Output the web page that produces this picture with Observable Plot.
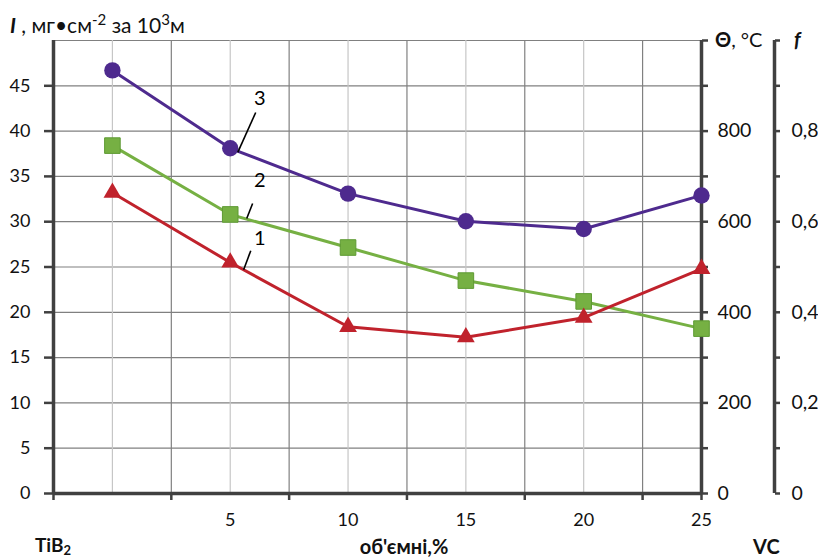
<!DOCTYPE html>
<html><head><meta charset="utf-8">
<script src="https://cdn.jsdelivr.net/npm/d3@7"></script>
<script src="https://cdn.jsdelivr.net/npm/@observablehq/plot@0.6"></script>
<style>body{margin:0;background:#fff}</style>
</head><body><div id="chart"></div>
<script>
// composition, об'ємні % VC (0 = TiB2)
const composition = [0, 5, 10, 15, 20, 25];
const series3 = [46.7, 38.1, 33.1, 30.05, 29.2, 32.9];   // curve 3
const series2 = [38.4, 30.8, 27.15, 23.5, 21.2, 18.2];   // curve 2
const series1 = [33.2, 25.5, 18.4, 17.25, 19.4, 24.8];   // curve 1
const seriesNames = ["3", "2", "1"];
const seriesColors = ["#4e2a8e", "#76b043", "#c0222c"];
const seriesSymbols = ["circle", "square", "triangle"];
const xTickLabels = [5, 10, 15, 20, 25];
const leftTicks = [0, 5, 10, 15, 20, 25, 30, 35, 40, 45];
const rightTicks = [0, 5, 10, 15, 20, 25, 30, 35, 40, 45, 50];
const thetaLabels = [0, 200, 400, 600, 800];
const fLabels = ["0", "0,2", "0,4", "0,6", "0,8"];
const xTickMarks = [-2.5, 2.5, 7.5, 12.5, 17.5, 22.5, 25];
const lightGridX = [0, 5, 10, 15, 20];
const darkGridX = [2.5, 7.5, 12.5, 17.5, 22.5];
const gridY = [5, 10, 15, 20, 25, 30, 35, 40, 45, 50];
// curve labels with leader lines
const labelPos = [{n: "3", x: 6.25, y: 43.6}, {n: "2", x: 6.25, y: 34.55}, {n: "1", x: 6.25, y: 28.1}];
const leaders = [
  {x1: 6.08, y1: 42.05, x2: 5.32, y2: 37.65},
  {x1: 5.95, y1: 32.0, x2: 5.70, y2: 30.35},
  {x1: 5.87, y1: 26.8, x2: 5.57, y2: 24.7}
];

const allSeries = [series3, series2, series1];
const rows = allSeries.flatMap((vals, i) => composition.map((c, j) => ({name: seriesNames[i], c, v: vals[j], i})));

const FONT = "Lato, 'Noto Sans', sans-serif";
const axisColor = "#404040";

const lineMarks = allSeries.map((vals, i) =>
  Plot.line(rows.filter(r => r.i === i), {x: "c", y: "v", stroke: seriesColors[i], strokeWidth: 3}));
const dotMarks = allSeries.map((vals, i) =>
  Plot.dot(rows.filter(r => r.i === i), {
    x: "c", y: "v", symbol: seriesSymbols[i],
    r: i === 0 ? 8.2 : i === 1 ? 8.8 : 6.6,
    fill: seriesColors[i],
    stroke: i === 1 ? "#5e9a33" : "none", strokeWidth: 1
  }));

const plot = Plot.plot({
  width: 818, height: 558,
  marginLeft: 53, marginRight: 117, marginTop: 40, marginBottom: 65,
  style: {fontFamily: FONT, fontSize: "18px", color: "#111", background: "#fff", overflow: "visible"},
  x: {domain: [-2.5, 25]},
  y: {domain: [0, 50]},
  marks: [
    Plot.ruleY(gridY, {stroke: "#808080", strokeWidth: 1.2}),
    Plot.ruleX(lightGridX, {stroke: "#c6c6c6", strokeWidth: 1.2}),
    Plot.ruleX(darkGridX, {stroke: "#808080", strokeWidth: 1.2}),
    Plot.axisY({ticks: leftTicks, tickSize: 9, tickPadding: 14, stroke: axisColor, strokeWidth: 2.5, fontSize: 18, label: null}),
    Plot.axisY({anchor: "right", ticks: rightTicks, tickSize: 6, tickPadding: 10, stroke: axisColor, strokeWidth: 2.5, fontSize: 19.5,
      tickFormat: d => (d % 10 === 0 && d < 50) ? String(thetaLabels[d / 10]) : "", label: null}),
    Plot.axisY({anchor: "right", dx: 73, ticks: rightTicks, tickSize: 5, tickPadding: 12, stroke: axisColor, strokeWidth: 2.5, fontSize: 19.5,
      tickFormat: d => (d % 10 === 0 && d < 50) ? fLabels[d / 10] : "", label: null}),
    Plot.axisX({ticks: xTickMarks, tickSize: 7, stroke: axisColor, strokeWidth: 2.5, tickFormat: () => "", label: null}),
    Plot.ruleX([-2.5, 25], {stroke: axisColor, strokeWidth: 3.5}),
    Plot.ruleX([25], {dx: 73, stroke: axisColor, strokeWidth: 3.5}),
    Plot.ruleY([0], {stroke: axisColor, strokeWidth: 3.5}),
    Plot.text(xTickLabels, {x: d => d, frameAnchor: "bottom", dy: 32, text: d => String(d), fontSize: 18}),
    ...lineMarks,
    ...dotMarks,
    Plot.link(leaders, {x1: "x1", y1: "y1", x2: "x2", y2: "y2", stroke: "#000", strokeWidth: 1.6}),
    Plot.text(labelPos, {x: "x", y: "y", text: "n", fontSize: 20, fill: "#000"})
  ]
});

const svg = d3.select(plot);
function label(x, y, parts, attrs = {}) {
  const t = svg.append("text").attr("x", x).attr("y", y).attr("text-anchor", "start")
    .attr("font-family", FONT).attr("font-size", 20).attr("fill", "#111");
  for (const [k, v] of Object.entries(attrs)) t.attr(k, v);
  for (const p of parts) {
    const s = t.append("tspan").text(p.t);
    if (p.w) s.attr("font-weight", p.w);
    if (p.i) s.attr("font-style", "italic");
    if (p.dy) s.attr("dy", p.dy);
    if (p.fs) s.attr("font-size", p.fs);
  }
  return t;
}
label(10, 33, [
  {t: "I", w: "bold", i: true}, {t: " , мг•см"}, {t: "-2", dy: -8, fs: 15}, {t: " за 10", dy: 8},
  {t: "3", dy: -8, fs: 15}, {t: "м", dy: 8}
], {"font-size": 21});
label(715, 47, [{t: "Θ", w: "bold"}, {t: ", °C"}]);
label(794, 47, [{t: "f", w: "bold", i: true}]);
label(35, 552, [{t: "TiB", w: "bold"}, {t: "2", w: "bold", fs: 13, dy: 3}], {"font-size": 19});
label(404, 554, [{t: "об'ємні,%", w: "bold"}], {"text-anchor": "middle"});
label(753, 554, [{t: "VC", w: "bold"}]);

document.getElementById("chart").appendChild(plot);
</script>
</body></html>
